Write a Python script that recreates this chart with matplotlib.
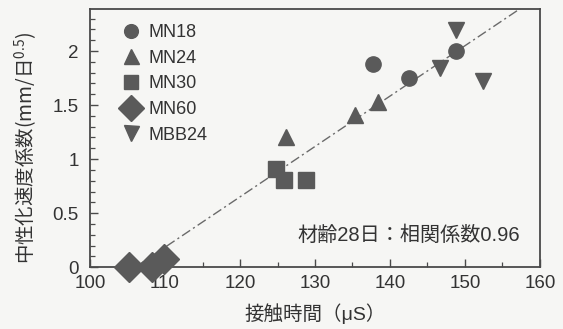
import numpy as np
import matplotlib
matplotlib.use("Agg")
import matplotlib.pyplot as plt
from matplotlib.ticker import MultipleLocator

plt.rcParams['font.family'] = ['Liberation Sans', 'Noto Sans CJK JP']
plt.rcParams['mathtext.fontset'] = 'custom'
plt.rcParams['mathtext.rm'] = 'Noto Sans CJK JP'
plt.rcParams['mathtext.it'] = 'Noto Sans CJK JP'
plt.rcParams['mathtext.default'] = 'rm'

# Contact time (μS) vs. carbonation rate coefficient (mm/day^0.5)
series_names = ["MN18", "MN24", "MN30", "MN60", "MBB24"]

mn18_x = [137.8, 142.5, 148.8]
mn18_y = [1.88, 1.75, 2.00]

mn24_x = [126.1, 135.3, 138.4]
mn24_y = [1.20, 1.41, 1.53]

mn30_x = [124.8, 125.9, 128.8]
mn30_y = [0.91, 0.81, 0.81]

mn60_x = [105.2, 108.2, 109.9]
mn60_y = [0.00, 0.00, 0.08]

mbb24_x = [148.8, 146.7, 152.4]
mbb24_y = [2.19, 1.84, 1.72]

x_ticks = [100, 110, 120, 130, 140, 150, 160]
y_ticks = [0, 0.5, 1, 1.5, 2]
y_tick_labels = ["0", "0.5", "1", "1.5", "2"]

note_text = "材齢28日：相関係数0.96"

xs = [mn18_x, mn24_x, mn30_x, mn60_x, mbb24_x]
ys = [mn18_y, mn24_y, mn30_y, mn60_y, mbb24_y]
markers = ["o", "^", "s", "D", "v"]
sizes = [11, 12, 11, 15, 12]

bg = "#f6f6f4"
mark_col = "#5a5a5a"
axis_col = "#4a4a4a"
text_col = "#333333"

fig = plt.figure(figsize=(5.63, 3.29), dpi=100, facecolor=bg)
ax = fig.add_axes([0.160, 0.188, 0.799, 0.785], facecolor=bg)

# least-squares trend line over all points
all_x = np.concatenate([np.array(v) for v in xs])
all_y = np.concatenate([np.array(v) for v in ys])
slope, intercept = np.polyfit(all_x, all_y, 1)
x0 = -intercept / slope
line_x = np.linspace(x0, 160, 200)
ax.plot(line_x, slope * line_x + intercept, color="#6a6a6a", lw=1.0,
        ls=(0, (7, 2.5, 1.5, 2.5)), zorder=2)

handles = []
for x, y, name, m, s in zip(xs, ys, series_names, markers, sizes):
    h, = ax.plot(x, y, ls="none", marker=m, ms=s, color=mark_col,
                 mec=mark_col, label=name, clip_on=False, zorder=3)
    handles.append(h)

ax.set_xlim(100, 160)
ax.set_ylim(0, 2.39)
ax.set_xticks(x_ticks)
ax.set_xticklabels([str(t) for t in x_ticks])
ax.set_yticks(y_ticks)
ax.set_yticklabels(y_tick_labels)
ax.xaxis.set_minor_locator(MultipleLocator(5))
ax.yaxis.set_minor_locator(MultipleLocator(0.1))
ax.tick_params(which="both", direction="in", colors=axis_col,
               labelcolor=text_col, labelsize=13.5)
ax.tick_params(which="major", length=6, width=1.0)
ax.tick_params(which="minor", length=3.5, width=0.9)
ax.tick_params(axis="x", pad=6)
ax.tick_params(axis="y", pad=8)
for sp in ax.spines.values():
    sp.set_color(axis_col)
    sp.set_linewidth(1.3)

leg = ax.legend(handles=handles, loc="upper left", bbox_to_anchor=(0.03, 0.99),
                frameon=False, fontsize=13, handletextpad=0.2,
                labelspacing=0.48, borderaxespad=0.3, handlelength=1.6,
                markerscale=0.9)
for t in leg.get_texts():
    t.set_color(text_col)

ax.text(0.955, 0.125, note_text, transform=ax.transAxes, ha="right",
        va="center", fontsize=14.5, color=text_col)

ax.set_xlabel("接触時間（μS）", fontsize=14, color=text_col, labelpad=8)
ax.set_ylabel("中性化速度係数(mm/日$^{0.5}$)", fontsize=14, color=text_col,
              fontfamily="Noto Sans CJK JP")
ax.yaxis.set_label_coords(-0.112, 0.46)

fig.savefig("out.png", dpi=100, facecolor=bg)
